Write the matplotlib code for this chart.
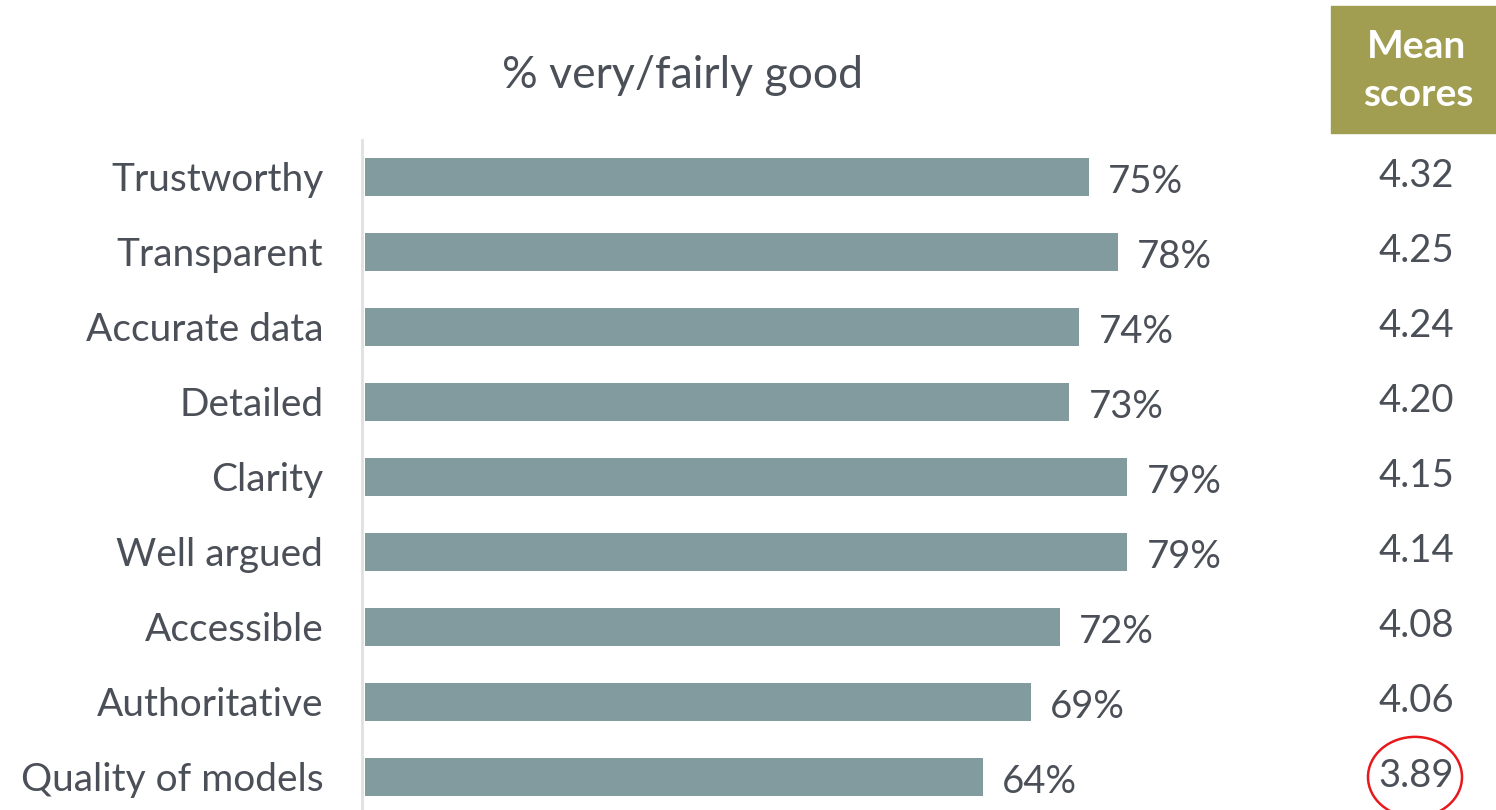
import matplotlib.pyplot as plt
from matplotlib.patches import Ellipse, Rectangle
from matplotlib import transforms

categories = ["Trustworthy", "Transparent", "Accurate data", "Detailed", "Clarity",
              "Well argued", "Accessible", "Authoritative", "Quality of models"]
pct_good = [75, 78, 74, 73, 79, 79, 72, 69, 64]
mean_scores = [4.32, 4.25, 4.24, 4.20, 4.15, 4.14, 4.08, 4.06, 3.89]

BAR = "#819b9e"
TEXT = "#4b5058"
OLIVE = "#a19e52"

plt.rcParams["font.family"] = ["Lato", "DejaVu Sans"]

W, H = 1496, 810
fig = plt.figure(figsize=(W / 100, H / 100), dpi=100)

# axes area in pixels: x 365..1330, y 140..810
ax = fig.add_axes([365 / W, 0, 965 / W, 670 / H])
ypos = list(range(len(categories)))
ax.barh(ypos, pct_good, height=0.51, color=BAR)
ax.set_xlim(0, 100)
ax.set_ylim(8.44, -0.493)

for s in ["top", "right", "bottom"]:
    ax.spines[s].set_visible(False)
ax.spines["left"].set_color("#e0e0e0")
ax.spines["left"].set_linewidth(2)
ax.spines["left"].set_position(("outward", 2))
ax.set_xticks([])
ax.set_yticks(ypos)
ax.set_yticklabels(categories, fontsize=28, color=TEXT)
ax.tick_params(axis="y", length=0, pad=28)

for y, v in zip(ypos, pct_good):
    ax.text(v + 2.0, y + 0.07, f"{v}%", fontsize=27.5, color=TEXT,
            va="center", ha="left")

# mean score column on the right
trans = transforms.blended_transform_factory(fig.transFigure, ax.transData)
for y, m in zip(ypos, mean_scores):
    ax.text(1416 / W, y - 0.01, f"{m:.2f}", fontsize=27.5, color=TEXT,
            va="center", ha="center", transform=trans, clip_on=False)

# circle around the lowest mean
ax.add_patch(Ellipse((1415 / W, ypos[-1] - 0.0), 94 / W, 1.07,
                     transform=trans, fill=False, edgecolor="#e8191c",
                     linewidth=1.8, clip_on=False))

# header box
fig.patches.append(Rectangle((1331 / W, 1 - 133 / H), 165 / W, 127 / H,
                             transform=fig.transFigure, color=OLIVE))
fig.text(1416 / W, 1 - 46 / H, "Mean", fontsize=28, color="white",
         fontweight="bold", ha="center", va="center")
fig.text(1418 / W, 1 - 95 / H, "scores", fontsize=28, color="white",
         fontweight="bold", ha="center", va="center")

fig.text(683 / W, 1 - 75 / H, "% very/fairly good", fontsize=32, color=TEXT,
         ha="center", va="center")

fig.savefig("out.png", dpi=100)
